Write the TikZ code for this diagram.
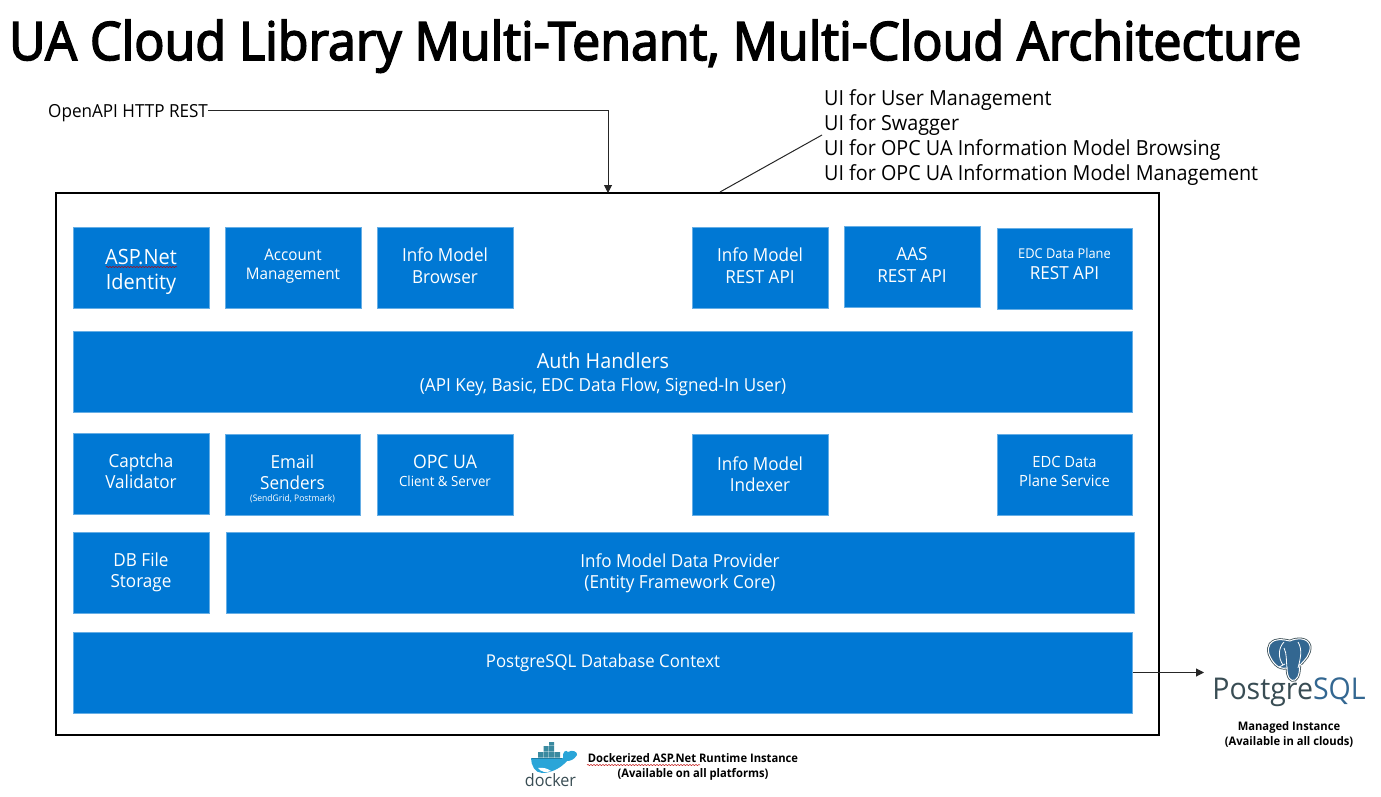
\documentclass[tikz,border=0pt]{standalone}
\usepackage{fontspec}
\setmainfont[FakeStretch=0.95]{Open Sans}
\newfontfamily\titlefont[FakeStretch=0.946,FakeBold=3]{Open Sans}
\usetikzlibrary{arrows.meta,decorations.pathmorphing}
\definecolor{azure}{HTML}{0078D4}
\definecolor{pgblue}{HTML}{336791}
\definecolor{whaleblue}{HTML}{2AA5D8}
\definecolor{whaledark}{HTML}{1F7FA5}
\definecolor{crate}{HTML}{3A8AA0}
\definecolor{dockerdark}{HTML}{394D54}
\newcommand{\sizemid}{\fontsize{18}{22}\selectfont}
\newcommand{\sizelow}{\fontsize{16}{19}\selectfont}
% text lines of a block, raised or lowered inside it
\newcommand{\nudge}[2]{\raisebox{#1}[0.75em][0.25em]{#2}}
\newcommand{\twolines}[3]{\nudge{#1}{#2}\\ \nudge{#1}{#3}}
\tikzset{
	block/.style={fill=azure, draw=azure!60, line width=0.5pt, text=white, align=center, minimum height=81pt, inner sep=0pt, font=\sizemid},
	smallblock/.style={block, minimum width=135.5pt},
	widelabel/.style={text=black, align=left, inner sep=0pt, anchor=west},
	caption/.style={text=black, align=center, inner sep=0pt, font=\bfseries\fontsize{11.8}{14.5}\selectfont},
	link/.style={draw=black!85, line width=1pt},
	linkarrow/.style={link, -{Triangle[length=8pt,width=8pt]}},
	spelling/.style={draw=red!75!black, line width=0.5pt, decorate, decoration={snake,amplitude=0.5pt,segment length=3pt}}
}
\begin{document}
\begin{tikzpicture}[x=1pt,y=-1pt]
	\useasboundingbox (0,0) rectangle (1381,797);
	\node[inner sep=0pt, anchor=base west] (title) at (9,60) {\titlefont\fontsize{53}{60}\selectfont UA Cloud Library Multi-Tenant, Multi-Cloud Architecture};
	% OUTER BOX
	\node (outer) at (607.5,464) [draw=black, line width=2pt, minimum width=1103pt, minimum height=542pt, inner sep=0pt] {};
	% TOP ROW
	\node (identity) at (141,267.5) [smallblock, font=\fontsize{21}{25}\selectfont] {\twolines{-4pt}{ASP.Net}{Identity}};
	\node (account) at (293,267.5) [smallblock, font=\sizelow] {\twolines{2pt}{Account}{Management}};
	\node (browser) at (445,267.5) [smallblock] {\twolines{0pt}{Info Model}{Browser}};
	\node (restapi) at (760,267.5) [smallblock] {\twolines{0pt}{Info Model}{REST API}};
	\node (aasapi) at (912,267) [smallblock] {\twolines{0pt}{AAS}{REST API}};
	\node (edcapi) at (1064.5,268.5) [smallblock, font=\fontsize{18}{21}\selectfont] {\twolines{4.5pt}{\fontsize{13.5}{20}\selectfont EDC Data Plane}{REST API}};
	% AUTH
	\node (auth) at (603,371.5) [block, minimum width=1059pt, font=\fontsize{18}{23}\selectfont] {\twolines{-4pt}{\fontsize{20.8}{23}\selectfont Auth Handlers}{(API Key, Basic, EDC Data Flow, Signed-In User)}};
	% MIDDLE ROW
	\node (captcha) at (141,473.5) [smallblock, font=\fontsize{18}{21}\selectfont] {\twolines{0.5pt}{Captcha}{Validator}};
	\node (email) at (292.5,474.5) [smallblock, font=\fontsize{18}{21}\selectfont] {\nudge{-6pt}{Email}\\ \nudge{-6pt}{Senders}\\[-9pt] \nudge{-6pt}{\fontsize{9}{10}\selectfont (SendGrid, Postmark)}};
	\node (opcua) at (445,474.5) [smallblock, font=\fontsize{14}{18}\selectfont] {\twolines{1pt}{\fontsize{18.6}{18}\selectfont OPC UA}{Client \& Server}};
	\node (indexer) at (760,474.5) [smallblock, font=\fontsize{18}{21}\selectfont] {Info Model\\ Indexer};
	\node (edcplane) at (1064.5,474.5) [smallblock, font=\fontsize{15.5}{19}\selectfont] {\twolines{1pt}{EDC Data}{Plane Service}};
	% STORAGE
	\node (dbfile) at (141,572.5) [smallblock, font=\fontsize{18}{21}\selectfont] {DB File\\ Storage};
	\node (provider) at (680,572.5) [block, minimum width=908pt, font=\fontsize{18}{21}\selectfont] {\twolines{-0.5pt}{Info Model Data Provider}{(Entity Framework Core)}};
	\node (context) at (603,672.5) [block, minimum width=1059pt] {};
	\node (contextlabel) at (603,662.5) [text=white, inner sep=0pt, font=\fontsize{17.7}{20}\selectfont] {PostgreSQL Database Context};
	% LABELS
	\node (openapi) at (48,111) [widelabel, text height=13pt, text depth=0pt, font=\fontsize{18}{20}\selectfont] {OpenAPI HTTP REST};
	\node (uilist) at (824,138) [widelabel, font=\fontsize{20.8}{25}\selectfont] {UI for User Management\\ UI for Swagger\\ UI for OPC UA Information Model Browsing\\ UI for OPC UA Information Model Management};
	\coordinate (apiin) at (608,193);
	\coordinate (uiin) at (720,192);
	\coordinate (uiout) at (822,135);
	\coordinate (dbout) at (1204,672.5);
	% CONNECTORS
	\draw[linkarrow] (openapi.east) -| (apiin);
	\draw[link] (uiin) -- (uiout);
	\draw[linkarrow] (context.east) -- (dbout);
	% ELEPHANT
	\def\elephant{(1270,644) .. controls (1276,637) and (1284,640) .. (1290,641) .. controls (1296,638) and (1308,637) .. (1310,646) .. controls (1311,654) and (1305,660) .. (1300,665) .. controls (1299,670) and (1300,677) .. (1295,680) .. controls (1291,682) and (1287,678) .. (1287,668) .. controls (1278,670) and (1272,662) .. (1269,654) .. controls (1268,650) and (1268,647) .. (1270,644) -- cycle}
	\draw[dockerdark, line width=2.6pt] \elephant;
	\filldraw[draw=white, fill=pgblue, line width=1pt] \elephant;
	\draw[white, line width=0.8pt] (1284,642) .. controls (1278,648) and (1278,658) .. (1283,665);
	\draw[white, line width=0.8pt] (1284,648) .. controls (1287,654) and (1286,660) .. (1287,668);
	\draw[white, line width=0.8pt] (1298,642) .. controls (1303,650) and (1300,660) .. (1298,668);
	\draw[white, line width=0.8pt] (1279,667) -- (1285,664) (1299,664) -- (1306,668);
	\node (pglogo) at (1289,692) [inner sep=0pt, text=dockerdark, font=\fontsize{30}{32}\selectfont] {Postgre\textcolor{pgblue}{SQL}};
	\node (pgnote) at (1289,734.5) [caption] {Managed Instance\\ (Available in all clouds)};
	% WHALE
	\fill[crate] (538,752) rectangle (543,757.5) (543.5,752) rectangle (548.5,757.5) (549,752) rectangle (554,757.5) (554.5,752) rectangle (560,757.5) (543.5,746) rectangle (548.5,751.5) (549,746) rectangle (554,751.5) (549,742) rectangle (554,745.5);
	\fill[whaleblue] (531,758) -- (563,758) .. controls (562,752) and (566,749) .. (568,752) .. controls (572,749) and (578,752) .. (577,755) .. controls (574,760) and (570,761) .. (567,761) .. controls (560,769) and (550,773) .. (542,773) .. controls (535,773) and (531,765) .. (531,758) -- cycle;
	\draw[whaledark, line width=1.5pt] (532,758.5) -- (562,758.5);
	\fill[white] (538,768) .. controls (544,767) and (548,769) .. (551,771) .. controls (546,773) and (541,772) .. (538,768) -- cycle;
	\node (dockerlogo) at (550.5,780) [inner sep=0pt, text=dockerdark, font=\fontsize{17}{18}\selectfont] {docker};
	\node (dockernote) at (693,767) [caption] {Dockerized ASP.Net Runtime Instance\\ (Available on all platforms)};
	% SPELLING MARKS
	\draw[spelling] (106,267) -- (177,267);
	\draw[spelling] (587,765) -- (700,765);
\end{tikzpicture}
\end{document}
